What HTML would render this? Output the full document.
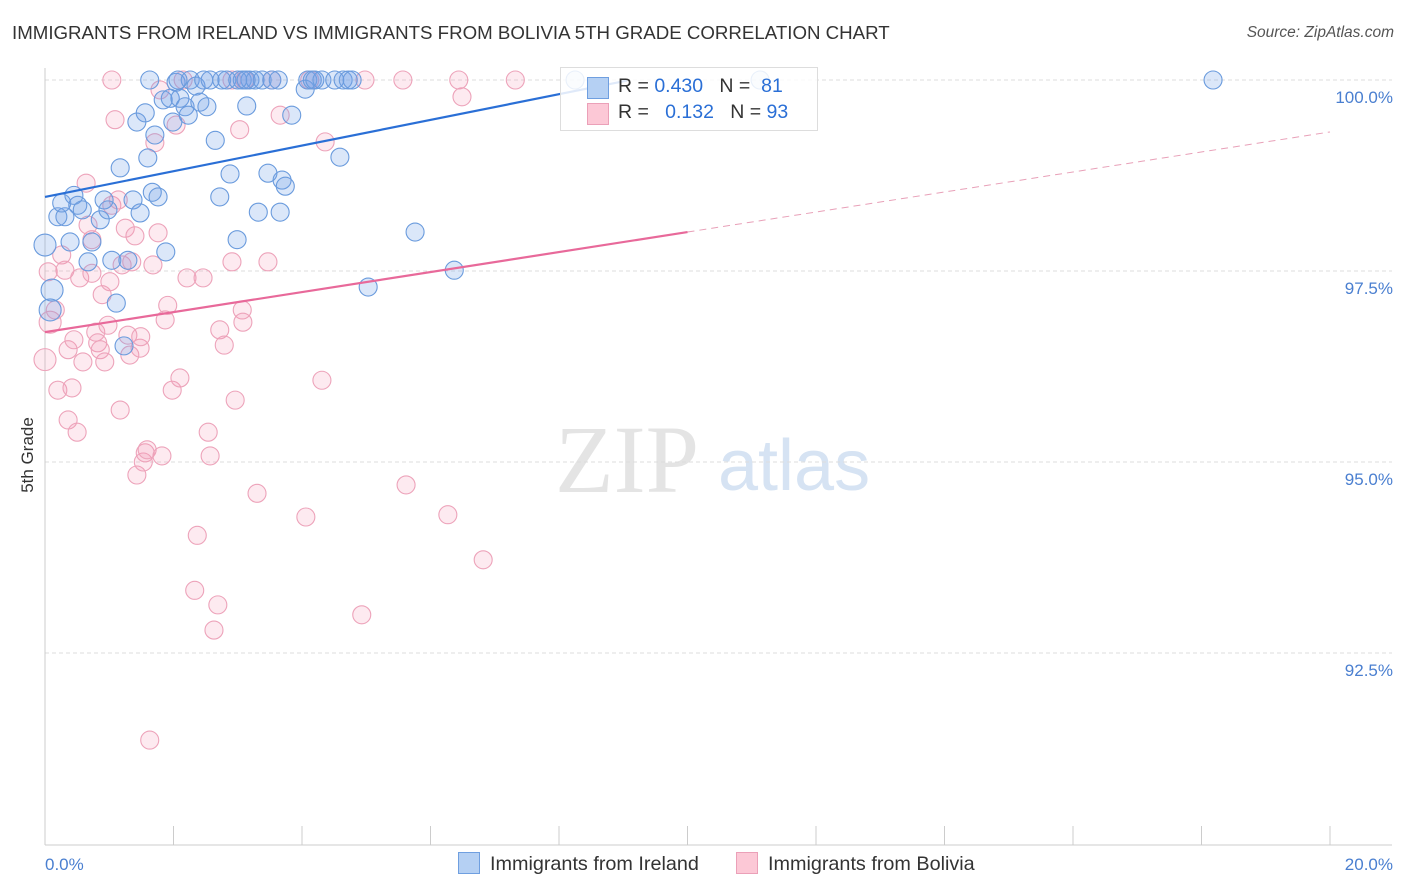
<!DOCTYPE html>
<html><head><meta charset="utf-8"><style>
body{margin:0;background:#fff;font-family:"Liberation Sans",sans-serif;}
#wrap{position:relative;width:1406px;height:892px;overflow:hidden}
.t{position:absolute;white-space:nowrap}
</style></head><body>
<div id="wrap">
<div class="t" style="left:12px;top:22px;font-size:18.7px;color:#333">IMMIGRANTS FROM IRELAND VS IMMIGRANTS FROM BOLIVIA 5TH GRADE CORRELATION CHART</div>
<div class="t" style="right:12px;top:24px;font-size:15.5px;color:#555;font-style:italic">Source: ZipAtlas.com</div>
<svg id="svg" width="1406" height="892" style="position:absolute;left:0;top:0"></svg>
</div>
<script>
const xTicks=[0,2,4,6,8,10,12,14,16,18,20];
const yTicks=[100,97.5,95,92.5];
const yTickLabels=["100.0%","97.5%","95.0%","92.5%"];
const irelandX=[0,0.11,0.08,0.20,0.31,0.26,0.39,0.45,0.51,0.58,0.67,0.73,0.86,0.92,0.98,1.04,1.11,1.17,1.23,1.29,1.37,1.43,1.48,1.56,1.60,1.67,1.71,1.76,1.84,1.88,1.95,1.99,2.04,2.10,2.18,2.23,2.26,2.35,2.41,2.47,2.52,2.57,2.65,2.72,2.75,2.83,2.88,2.99,3.07,3.14,3.19,3.27,3.32,3.38,3.47,3.53,3.63,3.69,3.74,3.66,3.84,4.05,4.09,4.16,4.31,4.51,4.59,4.64,4.72,4.78,5.03,5.76,6.37,8.25,11.13,18.18,1.63,2.07,3.00,3.13,4.20];
const irelandY=[97.84,97.25,96.99,98.21,98.21,98.39,97.88,98.49,98.36,98.30,97.62,97.88,98.17,98.43,98.30,97.64,97.08,98.85,96.52,97.64,98.43,99.45,98.26,99.57,98.98,98.53,99.28,98.47,99.74,97.75,99.76,99.45,99.97,99.76,99.65,99.54,100,99.92,99.71,100,99.65,100,99.21,98.47,100,100,98.77,97.91,100,99.66,100,100,98.27,100,98.78,100,100,98.69,98.61,98.27,99.54,99.88,100,100,100,100,98.99,100,100,100,97.29,98.01,97.51,100,100,100,100,100,100,100,100];
const boliviaX=[0,0.05,0.08,0.16,0.20,0.26,0.31,0.36,0.36,0.42,0.45,0.50,0.54,0.59,0.64,0.67,0.73,0.73,0.79,0.82,0.86,0.89,0.93,0.98,1.01,1.04,1.09,1.14,1.17,1.20,1.25,1.29,1.32,1.35,1.40,1.43,1.48,1.49,1.53,1.56,1.59,1.63,1.68,1.71,1.76,1.79,1.82,1.87,1.91,1.98,2.04,2.10,2.15,2.21,2.33,2.37,2.46,2.54,2.57,2.63,2.69,2.72,2.79,2.91,2.96,3.03,3.07,3.08,3.11,3.30,3.47,3.53,3.66,4.06,4.12,4.31,4.36,4.93,4.98,5.57,5.62,6.27,6.44,6.49,6.82,7.32,2.91,1.04];
const boliviaY=[96.34,97.49,96.83,96.99,95.94,97.71,97.51,95.55,96.47,95.97,96.60,95.39,97.41,96.31,98.65,98.10,97.91,97.47,96.70,96.56,96.47,97.19,96.31,96.79,97.36,98.36,99.48,98.43,95.68,97.58,98.06,96.66,96.40,97.62,97.96,94.83,96.49,96.64,95.00,95.12,95.16,91.36,97.58,99.18,98.00,99.87,95.08,96.86,97.05,95.94,99.41,96.10,100,97.41,93.32,94.04,97.41,95.39,95.08,92.80,93.13,96.73,96.53,97.62,95.81,99.35,96.99,96.83,100,94.59,97.62,100,99.54,94.28,100,96.07,99.19,93.00,100,100,94.70,94.31,100,99.78,93.72,100,100,100];
const irelandBig=[0,1,2];
const boliviaBig=[0,2];
const irelandFit=[98.47,0.168];
const irelandFitEnd=9.06;
const boliviaFit=[96.70,0.131];
const boliviaFitSolidEnd=10;
const boliviaFitDashEnd=20;

const X0=45,X1=1330,Y0=80,Y1=844;
const sx=v=>X0+(v-0)/20*(X1-X0);
const sy=v=>Y0+(100-v)/10*(Y1-Y0);
const svg=document.getElementById('svg');
const NS='http://www.w3.org/2000/svg';
function mk(tag,attrs,parent){const e=document.createElementNS(NS,tag);for(const k in attrs)e.setAttribute(k,attrs[k]);(parent||svg).appendChild(e);return e;}

let wm=mk('text',{x:555,y:492,'font-size':96,'font-family':'Liberation Serif, serif',fill:'#e4e4e4'});wm.textContent='ZIP';


let wm2=mk('text',{x:718,y:490,'font-size':72,'font-family':'Liberation Sans, sans-serif',fill:'#d6e3f3'});wm2.textContent='atlas';



yTicks.forEach((v,i)=>{
 const g=mk('line',{x1:X0,x2:1392,y1:sy(v),y2:sy(v),stroke:'#ddd','stroke-dasharray':'4,3'});
 
 
 const t=mk('text',{x:1393,y:sy(v)+23,'text-anchor':'end','font-size':17,fill:'#4a7fd0'});t.textContent=yTickLabels[i];
 
 
});
let ax=mk('line',{x1:X0,x2:1392,y1:Y1+1,y2:Y1+1,stroke:'#ccc'});


let ay=mk('line',{x1:X0,x2:X0,y1:68,y2:Y1+1,stroke:'#ccc'});


xTicks.forEach(v=>{
 const l=mk('line',{x1:sx(v),x2:sx(v),y1:Y1-18,y2:Y1+1,stroke:'#ccc'});
 
 
});
let xl0=mk('text',{x:45,y:870,'font-size':17,fill:'#4a7fd0'});xl0.textContent='0.0%';


let xl1=mk('text',{x:1393,y:870,'font-size':17,fill:'#4a7fd0','text-anchor':'end'});xl1.textContent='20.0%';


let yt=mk('text',{x:0,y:0,'font-size':17,fill:'#333','text-anchor':'middle',transform:'translate(33,455) rotate(-90)'});yt.textContent='5th Grade';



function pts(xs,ys,big,fill,stroke,name){
 xs.forEach((x,i)=>{
  const c=mk('circle',{cx:sx(x),cy:sy(ys[i]),r:big.includes(i)?11:9,fill:fill,stroke:stroke,'stroke-width':1.1});
  
  
 });
}
pts(boliviaX,boliviaY,boliviaBig,'rgba(244,150,180,0.2)','#eda3ba','bolivia-point');
pts(irelandX,irelandY,irelandBig,'rgba(110,160,230,0.25)','#6a9bdd','ireland-point');

let bl=mk('line',{x1:sx(0),y1:sy(irelandFit[0]),x2:sx(irelandFitEnd),y2:sy(irelandFit[0]+irelandFit[1]*irelandFitEnd),stroke:'#2a6fd6','stroke-width':2.2});


let pl=mk('line',{x1:sx(0),y1:sy(boliviaFit[0]),x2:sx(boliviaFitSolidEnd),y2:sy(boliviaFit[0]+boliviaFit[1]*boliviaFitSolidEnd),stroke:'#e8699a','stroke-width':2.2});


let pd=mk('line',{x1:sx(boliviaFitSolidEnd),y1:sy(boliviaFit[0]+boliviaFit[1]*boliviaFitSolidEnd),x2:sx(boliviaFitDashEnd),y2:sy(boliviaFit[0]+boliviaFit[1]*boliviaFitDashEnd),stroke:'#e8a0b8','stroke-width':1,'stroke-dasharray':'7,5'});


</script>
<div style="position:absolute;left:560px;top:67px;width:256px;height:62px;border:1px solid #ddd;background:rgba(255,255,255,0.85);font-size:19.5px;color:#333">
 <div style="position:absolute;left:26px;top:9px;width:20px;height:20px;background:#b5d0f3;border:1px solid #6f9fe0"></div>
 <div class="t" style="left:57px;top:7px">R = <span style="color:#2a6fd6">0.430</span>&nbsp;&nbsp;&nbsp;N = &nbsp;<span style="color:#2a6fd6">81</span></div>
 <div style="position:absolute;left:26px;top:35px;width:20px;height:20px;background:#fcc8d6;border:1px solid #eba0b8"></div>
 <div class="t" style="left:57px;top:33px">R = &nbsp;&nbsp;<span style="color:#2a6fd6">0.132</span>&nbsp;&nbsp;&nbsp;N = <span style="color:#2a6fd6">93</span></div>
</div>
<div style="position:absolute;left:458px;top:852px;font-size:19.8px;color:#333;height:24px">
 <div class="t" style="left:0;top:0"><span style="display:inline-block;width:20px;height:20px;background:#b5d0f3;border:1px solid #6f9fe0;vertical-align:-4px;margin-right:10px"></span>Immigrants from Ireland</div>
 <div class="t" style="left:278px;top:0"><span style="display:inline-block;width:20px;height:20px;background:#fcc8d6;border:1px solid #eba0b8;vertical-align:-4px;margin-right:10px"></span>Immigrants from Bolivia</div>
</div>
</body></html>
